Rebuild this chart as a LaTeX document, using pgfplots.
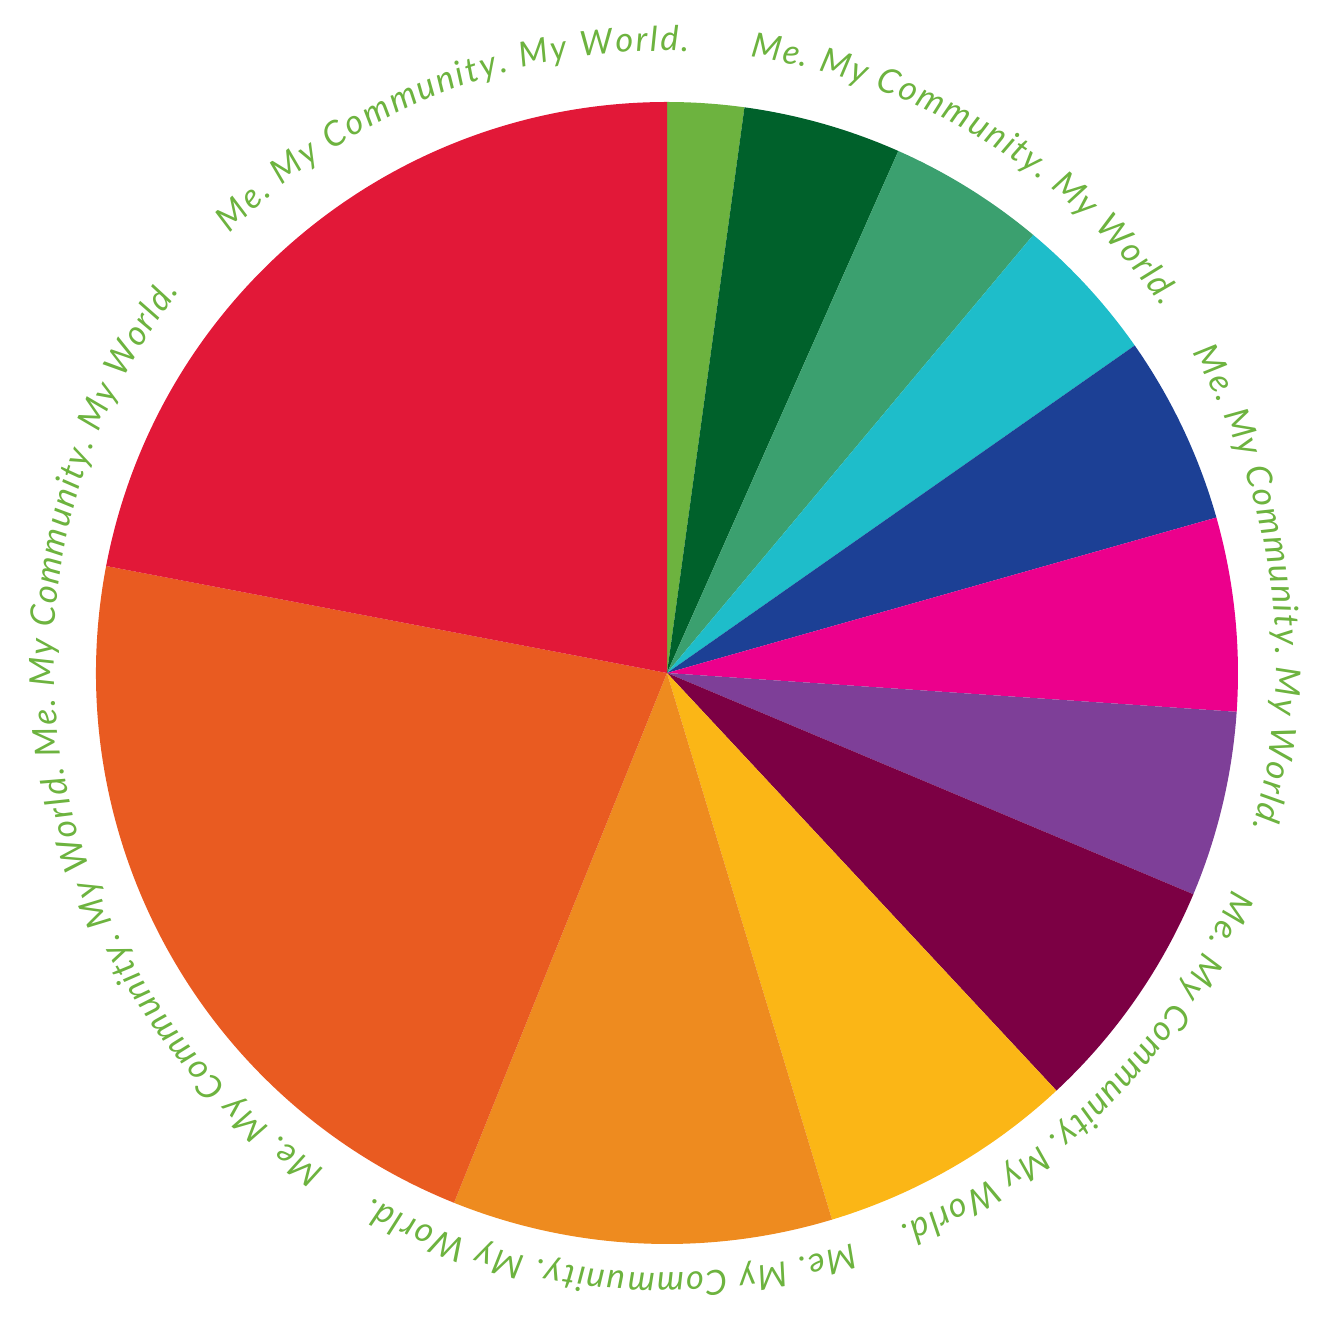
\documentclass[border=0pt]{standalone}
\usepackage{pgfplots}
\pgfplotsset{compat=1.18}
\usepackage{fontspec}
\setmainfont{Lato}
\usetikzlibrary{decorations.text}
\definecolor{cA}{HTML}{6DB33F}
\definecolor{cB}{HTML}{00612B}
\definecolor{cC}{HTML}{3BA06F}
\definecolor{cD}{HTML}{1EBDCA}
\definecolor{cE}{HTML}{1C4095}
\definecolor{cF}{HTML}{EC008C}
\definecolor{cG}{HTML}{7E3F98}
\definecolor{cH}{HTML}{7C0044}
\definecolor{cI}{HTML}{FBB616}
\definecolor{cJ}{HTML}{EE8B1F}
\definecolor{cK}{HTML}{E95B21}
\definecolor{cL}{HTML}{E21838}
\definecolor{tg}{HTML}{6DB33F}
\newcommand{\pieslice}[3]{\fill[#1] (axis cs:667,658) -- (axis cs:{667+571*cos(#2)},{658+571*sin(#2)}) arc[start angle=#2,end angle=#3,radius=171.3pt] -- cycle;}
\newcommand{\ring}[3]{\path[decorate,decoration={text along path,text align={fit to path},text={|\itshape\color{tg}\fontsize{10.3}{12}\selectfont|#3}}] (axis cs:{665+611*cos(#1)},{669+611*sin(#1)}) arc[start angle=#1,end angle=#2,radius=183.3pt];}
\begin{document}
\begin{tikzpicture}
\begin{axis}[scale only axis,width=396.9pt,height=399.3pt,xmin=0,xmax=1323,ymin=0,ymax=1331,hide axis,clip=false]
\path (axis cs:0,0) rectangle (axis cs:1323,1331);
% slice boundaries (degrees, math angle), slices in share of 360 deg:
% 7.8, 16.1, 16.0, 15.1, 19.2, 19.7, 18.9, 24.2, 26.2, 38.7, 78.9, 79.2
\pieslice{cA}{90}{82.2}
\pieslice{cB}{82.2}{66.1}
\pieslice{cC}{66.1}{50.1}
\pieslice{cD}{50.1}{35.0}
\pieslice{cE}{35.0}{15.8}
\pieslice{cF}{15.8}{-3.9}
\pieslice{cG}{-3.9}{-22.8}
\pieslice{cH}{-22.8}{-47.0}
\pieslice{cI}{-47.0}{-73.2}
\pieslice{cJ}{-73.2}{-111.9}
\pieslice{cK}{-111.9}{-190.8}
\pieslice{cL}{-190.8}{-270}
\ring{135.5}{87.8}{Me. My Community. My World.}
\ring{82.0}{35.5}{Me. My Community. My World.}
\ring{30.4}{-15.8}{Me. My Community. My World.}
\ring{-21.9}{-67.4}{Me. My Community. My World.}
\ring{-72.1}{-118.7}{Me. My Community. My World.}
\ring{-123.9}{-217.4}{Me. My Community. My World. Me. My Community. My World.}
\end{axis}
\end{tikzpicture}
\end{document}
